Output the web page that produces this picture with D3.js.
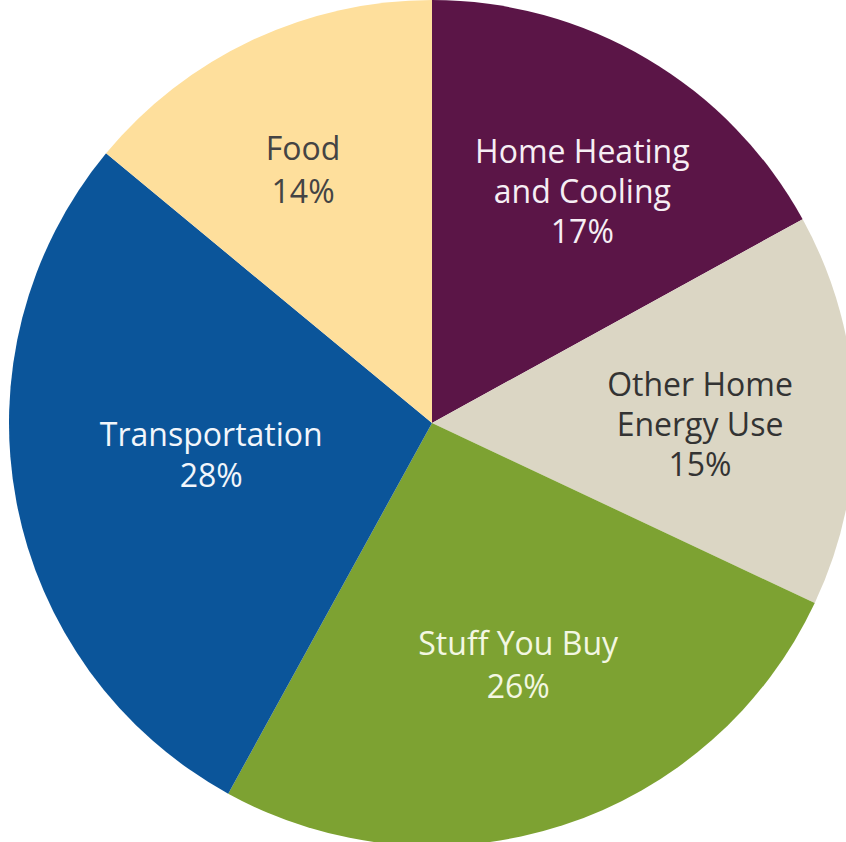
<!DOCTYPE html>
<html>
<head>
<meta charset="utf-8">
<script src="https://cdn.jsdelivr.net/npm/d3@7"></script>
<style>
  body { margin: 0; background: #fff; }
  svg { display: block; }
</style>
</head>
<body>
<svg></svg>
<script>
    var categories = ["Home Heating and Cooling", "Other Home Energy Use", "Stuff You Buy", "Transportation", "Food"];
    var values = [17, 15, 26, 28, 14];
    // label lines as printed on the chart
    var labelLines = [
        ["Home Heating", "and Cooling", "17%"],
        ["Other Home", "Energy Use", "15%"],
        ["Stuff You Buy", "26%"],
        ["Transportation", "28%"],
        ["Food", "14%"]
    ];

    var svgWidth = 846, svgHeight = 842;
    var cx = 432, cy = 423, radius = 423;
    var colors = ["#5b1547", "#dbd6c4", "#7da232", "#0b559a", "#fedf9c"];
    var textColors = ["#f6eef4", "#333333", "#f3f7e2", "#f2f6fb", "#444444"];
    // label block placement: distance from centre, small angle nudge (deg), line spacing
    var labelRadius = [276, 268, 257, 223, 284];
    var labelNudge = [2.4, 2.2, -1.6, 2.6, -1.8];
    var lineGap = [40, 40, 43, 41, 43];

    var svg = d3.select("svg")
        .attr("width", svgWidth)
        .attr("height", svgHeight);

    var g = svg.append("g")
        .attr("transform", "translate(" + cx + "," + cy + ")");

    var pie = d3.pie().sort(null).value(function (d) { return d; });
    var arcs = pie(values);

    var arc = d3.arc().innerRadius(0).outerRadius(radius);

    g.selectAll("path")
        .data(arcs)
        .enter().append("path")
        .attr("d", arc)
        .attr("fill", function (d, i) { return colors[i]; });

    var labels = g.selectAll("g.label")
        .data(arcs)
        .enter().append("g")
        .attr("class", "label")
        .attr("transform", function (d, i) {
            var a = (d.startAngle + d.endAngle) / 2 + labelNudge[i] * Math.PI / 180;
            var r = labelRadius[i];
            return "translate(" + (r * Math.sin(a)) + "," + (-r * Math.cos(a)) + ")";
        });

    labels.each(function (d, i) {
        var lines = labelLines[i];
        var off = (lines.length - 1) / 2;
        d3.select(this).selectAll("text")
            .data(lines)
            .enter().append("text")
            .attr("x", 0)
            .attr("y", function (t, j) { return (j - off) * lineGap[i]; })
            .attr("dy", "0.35em")
            .attr("text-anchor", "middle")
            .attr("font-family", "'Open Sans', sans-serif")
            .attr("font-size", "32px")
            .attr("fill", textColors[i])
            .text(function (t) { return t; });
    });
</script>
</body>
</html>
